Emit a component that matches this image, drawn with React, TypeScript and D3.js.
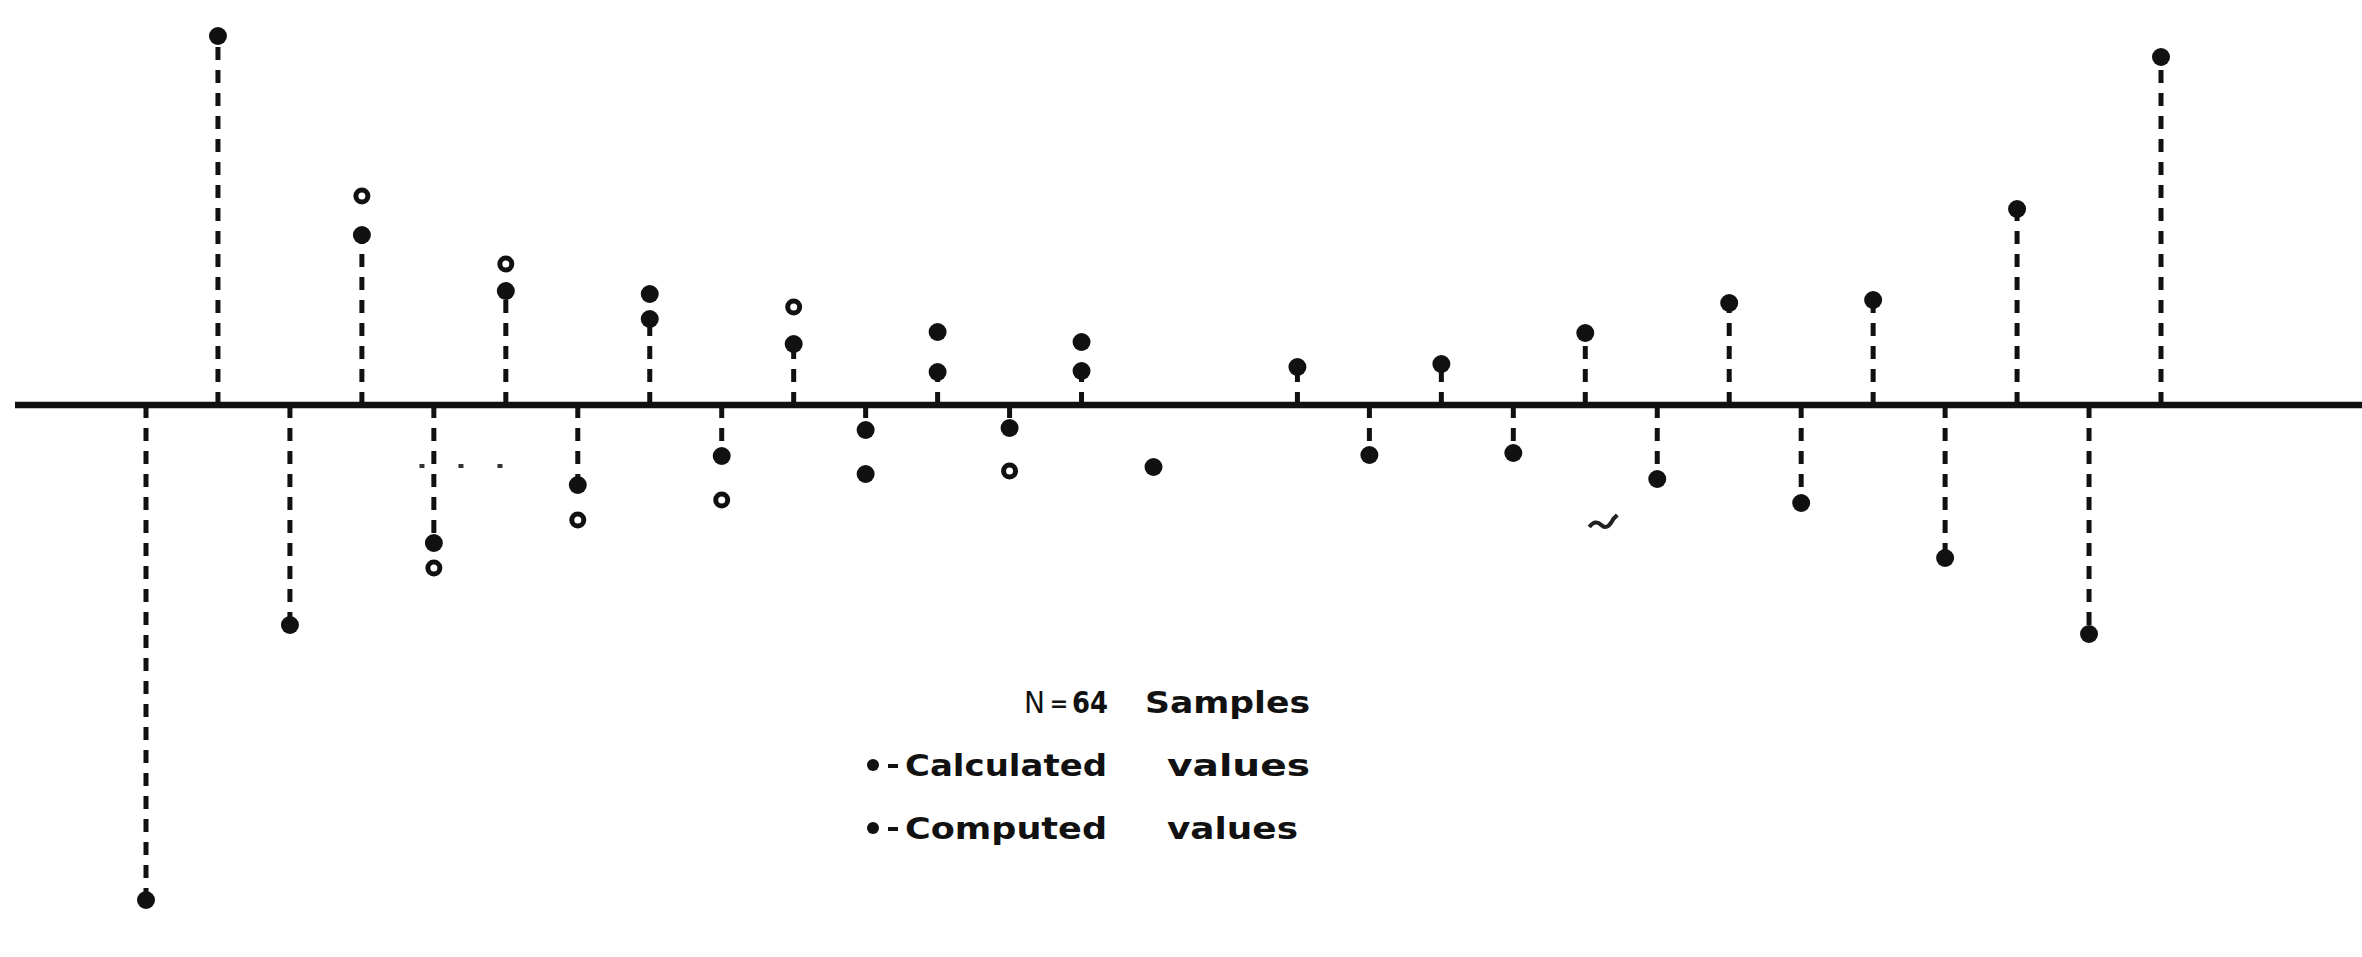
import React from 'react'
import * as d3 from 'd3'

// sample index along the time axis (slot 15 is empty in the original)
const samples = d3.range(0, 29)

// filled dots at the end of each stem
const computed = [
  -4.95, 3.69, -2.2, 1.7, -1.38, 1.14, -0.8, 0.86, -0.51, 0.61,
  -0.25, 0.33, -0.23, 0.34, null, null, 0.38, -0.5, 0.41, -0.48,
  0.72, -0.74, 1.02, -0.98, 1.05, -1.53, 1.96, -2.29, 3.48,
]

// second filled dot past the stem end
const computedOuter = [
  null, null, null, null, null, null, null, 1.11, null, null,
  -0.69, 0.73, null, 0.63, -0.62, null, null, null, null, null,
  null, null, null, null, null, null, null, null, null,
]

// open circles
const calculated = [
  null, null, null, 2.09, -1.63, 1.41, -1.15, null, -0.95, 0.98,
  null, null, -0.66, null, null, null, null, null, null, null,
  null, null, null, null, null, null, null, null, null,
]

// faint dashed level drawn between samples 3.8 and 5.3
const refLevel = {from: 3.8, to: 5.3, value: -0.61}

const legendTitle = ['N', '=', '64', 'Samples']
const legendItems = [
  ['Calculated', 'values'],
  ['Computed', 'values'],
]

export default function App() {
  const width = 2362,
    height = 957

  const xScale = d3.scaleLinear().domain([0, 28]).range([146, 2161])
  const yScale = d3.scaleLinear().domain([-5, 4]).range([905, 5])
  const y0 = yScale(0)

  const font = '"DejaVu Sans", Lato, sans-serif'

  // legend layout
  const lgX = 873,
    lgY = 765,
    lgStep = 63

  return (
    <svg
      width={width}
      height={height}
      style={{position: 'absolute', left: 0, top: 0, background: '#fff'}}
    >
      <rect x={0} y={0} width={width} height={height} fill={'#fff'} />

      {/* stems */}
      {samples.map((n) => {
        const v = computed[n]
        if (v == null) return null
        return (
          <line
            key={'s' + n}
            x1={xScale(n)}
            x2={xScale(n)}
            y1={y0}
            y2={yScale(v)}
            stroke={'#111'}
            strokeWidth={5}
            strokeDasharray={'13 10'}
          />
        )
      })}

      {/* axis */}
      <line x1={15} x2={width} y1={y0} y2={y0} stroke={'#111'} strokeWidth={6.5} />

      <line
        x1={xScale(refLevel.from)}
        x2={xScale(refLevel.to)}
        y1={yScale(refLevel.value)}
        y2={yScale(refLevel.value)}
        stroke={'#333'}
        strokeWidth={4}
        strokeDasharray={'5 34'}
      />

      {samples.map((n) => {
        const v = computed[n]
        if (v == null) return null
        return <circle key={'c' + n} cx={xScale(n)} cy={yScale(v)} r={9} fill={'#111'} />
      })}

      {samples.map((n) => {
        const v = computedOuter[n]
        if (v == null) return null
        return <circle key={'o' + n} cx={xScale(n)} cy={yScale(v)} r={9} fill={'#111'} />
      })}

      {samples.map((n) => {
        const v = calculated[n]
        if (v == null) return null
        return (
          <circle
            key={'k' + n}
            cx={xScale(n)}
            cy={yScale(v)}
            r={6}
            fill={'#fff'}
            stroke={'#111'}
            strokeWidth={5}
          />
        )
      })}

      {/* scan mark */}
      <path
        d={`M${xScale(20.25) - 14},${yScale(-1.22)} q6,-8 12,-2 q6,6 12,-6 l4,-4`}
        fill={'none'}
        stroke={'#222'}
        strokeWidth={4}
      />

      {/* legend */}
      <g fontFamily={font} fontWeight={700} fill={'#111'} fontSize={31}>
        <text x={lgX + 151} y={lgY - 52} fontWeight={400} textLength={21} lengthAdjust={'spacingAndGlyphs'}>
          {legendTitle[0]}
        </text>
        <text x={lgX + 186} y={lgY - 54} fontSize={22} textAnchor={'middle'}>
          {legendTitle[1]}
        </text>
        <text x={lgX + 199} y={lgY - 52} textLength={36} lengthAdjust={'spacingAndGlyphs'}>
          {legendTitle[2]}
        </text>
        <text x={lgX + 272} y={lgY - 52} textLength={165} lengthAdjust={'spacingAndGlyphs'}>
          {legendTitle[3]}
        </text>
        {legendItems.map((words, i) => (
          <g key={words[0]} transform={`translate(0,${i * lgStep})`}>
            <circle cx={lgX} cy={lgY} r={6} fill={'#111'} />
            <rect x={lgX + 15} y={lgY - 1} width={10} height={4} fill={'#111'} />
            <text x={lgX + 32} y={lgY + 11} textLength={202} lengthAdjust={'spacingAndGlyphs'}>
              {words[0]}
            </text>
            <text
              x={lgX + 294}
              y={lgY + 11}
              textLength={i === 0 ? 143 : 131}
              lengthAdjust={'spacingAndGlyphs'}
            >
              {words[1]}
            </text>
          </g>
        ))}
      </g>
    </svg>
  )
}
